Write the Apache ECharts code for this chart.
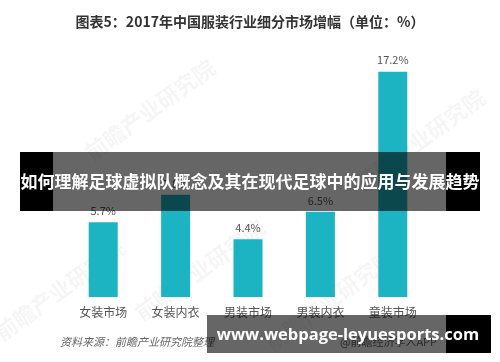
<!DOCTYPE html>
<html>
<head>
<meta charset="utf-8">
<script src="https://cdn.jsdelivr.net/npm/echarts@6/dist/echarts.min.js"></script>
<style>
html,body{margin:0;padding:0;background:#fff;}
#chart{width:500px;height:362px;}
</style>
</head>
<body>
<div id="chart"></div>
<script>
const titleText = '图表5：2017年中国服装行业细分市场增幅（单位：%）';
const categories = ['女装市场', '女装内衣', '男装市场', '男装内衣', '童装市场'];
const growth = [5.7, 7.8, 4.4, 6.5, 17.2];
const bannerText = '如何理解足球虚拟队概念及其在现代足球中的应用与发展趋势';
const siteText = 'www.webpage-leyuesports.com';
const sourceText = '资料来源：前瞻产业研究院整理';
const appText = '@前瞻经济学人APP';
const watermarkText = '前瞻产业研究院';

const FONT = '"Noto Sans CJK SC", "Noto Sans", sans-serif';
const chart = echarts.init(document.getElementById('chart'));

const watermarks = [[150, 110], [420, 140], [200, 270], [330, 300], [60, 290]].map(p => ({
  type: 'text', x: p[0], y: p[1], rotation: Math.PI / 5, z: 1, silent: true,
  style: { text: watermarkText, fill: 'rgba(0,0,0,0.04)', font: 'bold 22px ' + FONT, align: 'center', verticalAlign: 'middle' }
}));

chart.setOption({
  animation: false,
  backgroundColor: '#ffffff',
  title: {
    text: titleText, left: 'center', top: 10,
    textStyle: { fontFamily: FONT, fontSize: 14, fontWeight: 'bold', color: '#333' }
  },
  grid: { left: 67, width: 362, top: 35, height: 262, containLabel: false },
  xAxis: {
    type: 'category', data: categories,
    axisLine: { show: false }, axisTick: { show: false },
    axisLabel: { fontFamily: FONT, fontSize: 12, color: '#555', margin: 9 }
  },
  yAxis: { type: 'value', min: 0, max: 20, show: false, splitLine: { show: false } },
  series: [{
    type: 'bar', data: growth, barWidth: 29,
    itemStyle: { color: '#1cb4c2' },
    label: {
      show: true, position: 'top', distance: 6, formatter: '{c}%',
      fontFamily: FONT, fontSize: 11, color: '#555'
    }
  }],
  graphic: watermarks.concat([
    { type: 'text', x: 60, y: 342, z: 50, style: { text: sourceText, fill: '#666', font: 'italic 11px ' + FONT, align: 'left', verticalAlign: 'middle' } },
    { type: 'text', x: 340, y: 342, z: 50, style: { text: appText, fill: '#666', font: '11px ' + FONT, align: 'left', verticalAlign: 'middle' } },
    { type: 'rect', z: 100, shape: { x: 20, y: 152, width: 33, height: 59 }, style: { fill: '#000' } },
    { type: 'rect', z: 100, shape: { x: 446, y: 152, width: 34, height: 59 }, style: { fill: '#000' } },
    { type: 'rect', z: 100, shape: { x: 53, y: 152, width: 393, height: 59 }, style: { fill: 'rgba(0,0,0,0.6)' } },
    { type: 'text', z: 101, x: 250, y: 182, style: { text: bannerText, fill: '#fff', font: 'bold 17px ' + FONT, align: 'center', verticalAlign: 'middle' } },
    { type: 'rect', z: 100, shape: { x: 207, y: 315, width: 239, height: 38 }, style: { fill: 'rgba(0,0,0,0.6)' } },
    { type: 'rect', z: 100, shape: { x: 446, y: 315, width: 45, height: 38 }, style: { fill: '#000' } },
    { type: 'text', z: 101, x: 348, y: 335, style: { text: siteText, fill: '#fff', font: 'bold 16.5px "Open Sans", "DejaVu Sans", sans-serif', align: 'center', verticalAlign: 'middle' } }
  ])
});
</script>
</body>
</html>
